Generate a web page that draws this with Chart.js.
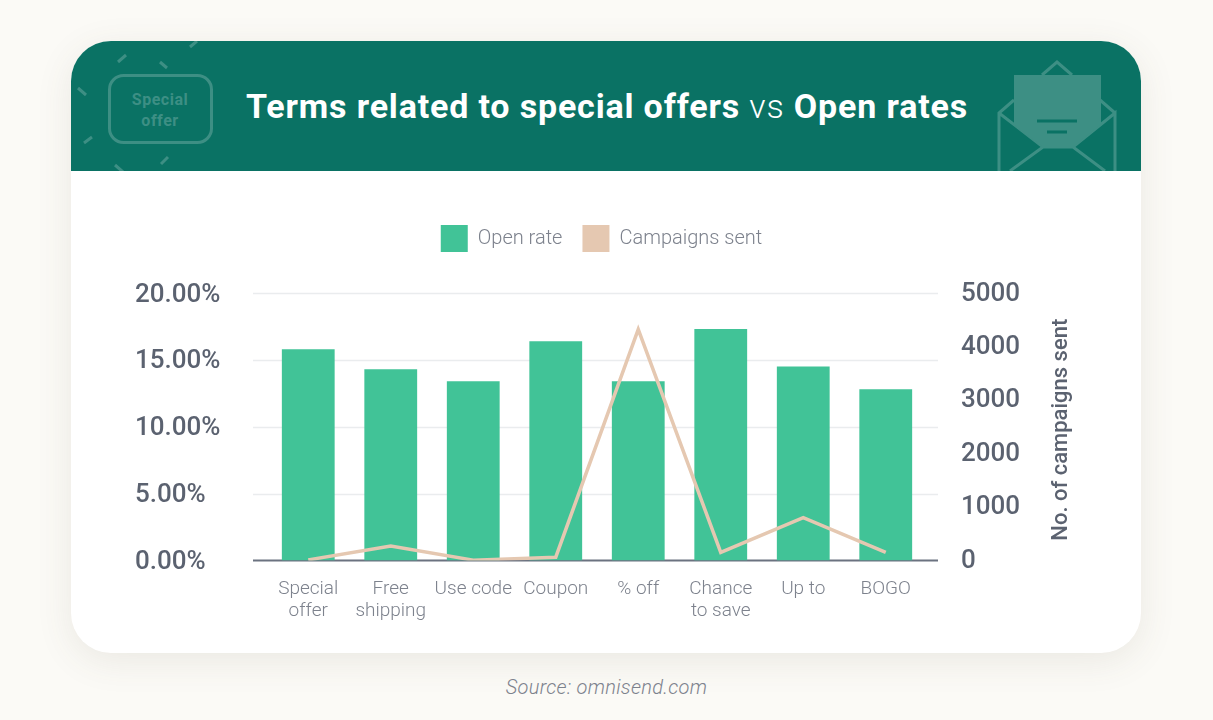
<!DOCTYPE html>
<html>
<head>
<meta charset="utf-8">
<script src="https://cdn.jsdelivr.net/npm/chart.js@4"></script>
<style>
  html, body { margin: 0; padding: 0; width: 1213px; height: 720px; overflow: hidden; background: #fbfaf6; font-family: Roboto, sans-serif; }
  .card { position: absolute; left: 71px; top: 41px; width: 1070px; height: 612px; background: #fff; border-radius: 40px; box-shadow: 0 8px 36px rgba(90, 80, 60, 0.10); overflow: hidden; }
  .header { position: absolute; left: 0; top: 0; width: 100%; height: 130px; background: #0a7264; }
  .header svg { position: absolute; left: 0; top: 0; }
  .title { position: absolute; left: 175px; top: 44px; white-space: nowrap; color: #fff; font-size: 34px; font-weight: 700; letter-spacing: 0.83px; line-height: 42px; }
  .title span { font-weight: 300; }
  canvas { position: absolute; left: 0; top: 174px; }
  .source { position: absolute; left: 0; width: 1213px; top: 675px; text-align: center; font-size: 20px; font-style: italic; font-weight: 300; color: #7d828d; letter-spacing: 0.3px; }
</style>
</head>
<body>
<div class="card">
  <div class="header">
    <svg width="1070" height="130" fill="none" stroke="#3d8f84" stroke-width="3">
      <rect x="38.5" y="34.5" width="102" height="67" rx="14"/>
      <path d="M47 21l8-7M89 21l7 6M119 6l7-6M7 47l8 7M13 102l8-6M90 123l7-7M44 124l8 7" />
      <text x="89" y="64" fill="#3d8f84" stroke="none" font-size="16" font-weight="700" letter-spacing="0.5" text-anchor="middle">Special</text>
      <text x="89" y="85" fill="#3d8f84" stroke="none" font-size="16" font-weight="700" letter-spacing="0.5" text-anchor="middle">offer</text>
      <path d="M928 130V72L943 59M928 72L972 106H1002L1044 72V130M1044 72L1029 59M939 130L972 106M1034 130L1002 106M971 34L986 21L1001 34" />
      <path d="M943 34H1030V83L1002 106H972L943 84Z" fill="#3d8f84" stroke="none"/>
      <path d="M966 80H1006M976 91H996" stroke="#0a7264"/>
    </svg>
    <div class="title">Terms related to special offers <span>vs</span> Open rates</div>
  </div>
</div>
<canvas id="chart"></canvas>
<div class="source">Source: omnisend.com</div>

<script>
const categories = [['Special', 'offer'], ['Free', 'shipping'], 'Use code', 'Coupon', '% off', ['Chance', 'to save'], 'Up to', 'BOGO'];
const openRates = [15.8, 14.3, 13.4, 16.4, 13.4, 17.3, 14.5, 12.8];
const campaignsSent = [10, 270, 5, 60, 4320, 150, 800, 150];
const leftTicks = [0, 5, 10, 15, 20];
const rightTicks = [0, 1000, 2000, 3000, 4000, 5000];

const canvas = document.getElementById('chart');
canvas.width = 1213;
canvas.height = 458;

const tickFont = { family: 'Roboto', size: 26, weight: '500' };
const labelFont = { family: 'Roboto', size: 19, weight: '300' };
const legendFont = { family: 'Roboto', size: 20, weight: '300' };

// Gridlines run past the first and last category, so draw them from the y scale
const gridPlugin = {
  id: 'wideGrid',
  beforeDatasetsDraw(chart) {
    const { ctx, chartArea, scales } = chart;
    ctx.save();
    leftTicks.forEach(v => {
      const y = Math.round(scales.y.getPixelForValue(v)) + 0.5;
      ctx.beginPath();
      ctx.moveTo(chartArea.left - 14, y);
      ctx.lineTo(chartArea.right + 11, y);
      ctx.lineWidth = v === 0 ? 2 : 1.5;
      ctx.strokeStyle = v === 0 ? '#6b7280' : '#eaecee';
      ctx.stroke();
    });
    ctx.restore();
  }
};

// Right axis title reads bottom to top, which the built-in title does not do
const axisTitlePlugin = {
  id: 'rightTitle',
  afterDraw(chart) {
    const { ctx, chartArea } = chart;
    ctx.save();
    ctx.translate(1061, (chartArea.top + chartArea.bottom) / 2 + 3);
    ctx.rotate(-Math.PI / 2);
    ctx.font = '500 22px Roboto';
    ctx.fillStyle = '#5b6270';
    ctx.textAlign = 'center';
    ctx.textBaseline = 'middle';
    ctx.fillText('No. of campaigns sent', 0, 0);
    ctx.restore();
  }
};

// Leaves the gap between the legend and the plot
const legendGapPlugin = {
  id: 'legendGap',
  beforeInit(chart) {
    const fit = chart.legend.fit;
    chart.legend.fit = function () {
      fit.call(this);
      this.height += 31;
    };
  }
};

new Chart(canvas, {
  type: 'bar',
  data: {
    labels: categories,
    datasets: [
      {
        type: 'line',
        label: 'Campaigns sent',
        data: campaignsSent,
        yAxisID: 'y1',
        borderColor: '#e5c8b1',
        backgroundColor: '#e5c8b1',
        borderWidth: 3.5,
        pointRadius: 0,
        tension: 0,
        order: 1
      },
      {
        label: 'Open rate',
        data: openRates,
        yAxisID: 'y',
        backgroundColor: '#41c397',
        barPercentage: 0.64,
        categoryPercentage: 1,
        order: 2
      }
    ]
  },
  options: {
    responsive: false,
    animation: false,
    layout: { padding: { left: 135, right: 145, top: 31, bottom: 0 } },
    plugins: {
      tooltip: { enabled: false },
      legend: {
        reverse: true,
        labels: {
          boxWidth: 27,
          boxHeight: 27,
          padding: 20,
          color: '#7d828d',
          font: legendFont,
          generateLabels(chart) {
            return Chart.defaults.plugins.legend.labels.generateLabels(chart).map(item => ({ ...item, lineWidth: 0 }));
          }
        }
      }
    },
    scales: {
      x: {
        grid: { display: false },
        border: { display: false },
        ticks: { color: '#7d828d', font: labelFont, maxRotation: 0, autoSkip: false, padding: 9 }
      },
      y: {
        position: 'left',
        min: 0,
        max: 20,
        afterFit(scale) { scale.width = 132; },
        afterBuildTicks(scale) { scale.ticks = leftTicks.map(value => ({ value })); },
        grid: { display: false },
        border: { display: false },
        ticks: { color: '#5b6270', font: tickFont, crossAlign: 'far', labelOffset: 2, callback: v => v.toFixed(2) + '%' }
      },
      y1: {
        position: 'right',
        min: 0,
        max: 5000,
        afterFit(scale) { scale.width = 141; },
        afterBuildTicks(scale) { scale.ticks = rightTicks.map(value => ({ value })); },
        grid: { display: false },
        border: { display: false },
        ticks: { color: '#5b6270', font: tickFont, padding: 26, labelOffset: 1, callback: v => String(v) }
      }
    }
  },
  plugins: [gridPlugin, axisTitlePlugin, legendGapPlugin]
});
</script>
</body>
</html>
